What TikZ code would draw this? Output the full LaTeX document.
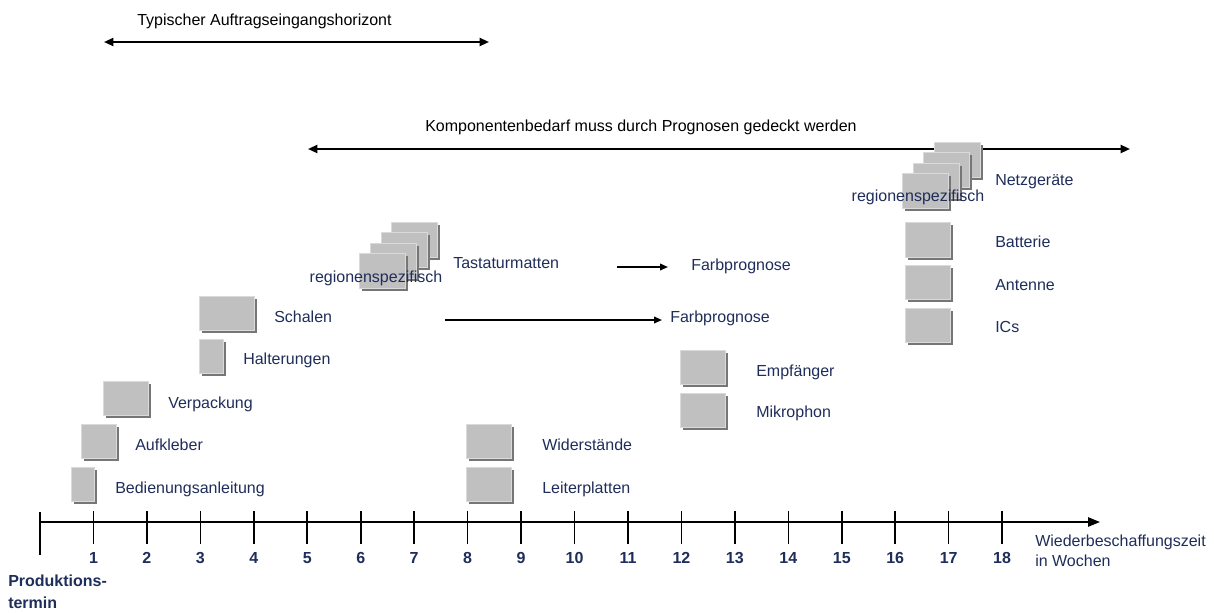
\documentclass[tikz,border=0pt]{standalone}
\usepackage{fontspec}
\setmainfont{Liberation Sans}
\usetikzlibrary{arrows.meta,shadows}
\definecolor{navy}{RGB}{31,45,90}
\definecolor{boxgray}{RGB}{192,192,192}
\definecolor{shadowgray}{RGB}{118,118,118}
\definecolor{edgegray}{RGB}{218,218,218}
\tikzset{
  lab/.style={text=navy, font=\fontsize{12}{14}\selectfont, anchor=base west, inner sep=0pt},
  toplab/.style={text=black, font=\fontsize{12}{14}\selectfont, anchor=base west, inner sep=0pt},
  numlab/.style={text=navy, font=\bfseries\fontsize{12}{14}\selectfont, anchor=base, inner sep=0pt},
  part/.style args={#1x#2}{rectangle, anchor=north west, fill=boxgray, draw=edgegray, line width=0.6pt,
    inner sep=0pt, outer sep=0pt, minimum width=#1*0.75pt, minimum height=#2*0.75pt,
    drop shadow={shadow xshift=2pt, shadow yshift=-2pt, fill=shadowgray, opacity=1}},
  dblarrow/.style={line width=1.5pt, {Triangle[length=7pt,width=6pt]}-{Triangle[length=7pt,width=6pt]}},
  onearrow/.style={line width=1.2pt, -{Triangle[length=6pt,width=5pt]}},
  axis/.style={line width=1.4pt, -{Triangle[length=9pt,width=7pt]}},
  tick/.style={line width=1.2pt},
}
\begin{document}
\begin{tikzpicture}[x=0.75pt,y=-0.75pt]
\useasboundingbox (0,0) rectangle (1214,612);

% horizons at the top
\node[toplab] (horA) at (137,25) {Typischer Auftragseingangshorizont};
\coordinate (hA1) at (104,42);
\coordinate (hA2) at (489,42);
\draw[dblarrow] (hA1) -- (hA2);

\node[toplab] (horB) at (425,131) {Komponentenbedarf muss durch Prognosen gedeckt werden};
\coordinate (hB1) at (308,149);
\coordinate (hB2) at (1130,149);
\draw[dblarrow] (hB1) -- (hB2);

% time axis
\coordinate (ax0) at (40,522);
\coordinate (axE) at (1100,522);
\draw[axis] (ax0) -- (axE);
\draw[tick] (40,512) -- (40,555);
\foreach \i in {1,...,18} {
  \pgfmathsetmacro{\xx}{40+53.45*\i}
  \draw[tick] (\xx,511) -- (\xx,544);
  \node[numlab] (n\i) at (\xx,563) {\i};
}
% two-line labels: the base anchor sits on the last line
\node[text=navy, font=\bfseries\fontsize{12}{16.5}\selectfont, anchor=base west, inner sep=0pt, align=left]
  (prod) at (8,608) {Produktions-\\termin};
\node[text=navy, font=\fontsize{12}{15}\selectfont, anchor=base west, inner sep=0pt, align=left]
  (wbz) at (1035,566) {Wiederbeschaffungszeit\\in Wochen};

% components, left group
\node[part=23x34] (bBed) at (71,467) {};
\node[lab] (tBed) at (115,493) {Bedienungsanleitung};
\node[part=35x34] (bAuf) at (81,424) {};
\node[lab] (tAuf) at (135,450) {Aufkleber};
\node[part=45x34] (bVer) at (103,381) {};
\node[lab] (tVer) at (168,408) {Verpackung};
\node[part=24x34] (bHal) at (199,339) {};
\node[lab] (tHal) at (243,364) {Halterungen};
\node[part=55x34] (bSch) at (199,296) {};
\node[lab] (tSch) at (274,322) {Schalen};

% keypad mats, region specific
\node[part=46x35] (bTa4) at (391,222) {};
\node[part=46x35] (bTa3) at (381,232) {};
\node[part=46x35] (bTa2) at (370,243) {};
\node[part=46x35] (bTa1) at (359,253) {};
\node[text=navy, font=\fontsize{12}{14}\selectfont, anchor=base, inner sep=0pt] (rTa) at (376,282) {regionenspezifisch};
\node[lab] (tTas) at (453,268) {Tastaturmatten};
\coordinate (fA1) at (617,267);
\coordinate (fA2) at (668,267);
\draw[onearrow] (fA1) -- (fA2);
\node[lab] (tFa1) at (691,270) {Farbprognose};
\coordinate (fB1) at (445,320);
\coordinate (fB2) at (662,320);
\draw[onearrow] (fB1) -- (fB2);
\node[lab] (tFa2) at (670,322) {Farbprognose};

% middle group
\node[part=45x34] (bWid) at (466,424) {};
\node[lab] (tWid) at (542,450) {Widerstände};
\node[part=45x34] (bLei) at (466,467) {};
\node[lab] (tLei) at (542,493) {Leiterplatten};
\node[part=45x34] (bEmp) at (680,350) {};
\node[lab] (tEmp) at (756,376) {Empfänger};
\node[part=45x34] (bMik) at (680,393) {};
\node[lab] (tMik) at (756,417) {Mikrophon};

% right group: power supplies, region specific
\node[part=46x35] (bNe4) at (934,142) {};
\node[part=46x35] (bNe3) at (923,152) {};
\node[part=46x35] (bNe2) at (913,163) {};
\node[part=46x35] (bNe1) at (902,173) {};
\node[text=navy, font=\fontsize{12}{14}\selectfont, anchor=base, inner sep=0pt] (rNe) at (918,201) {regionenspezifisch};
\node[lab] (tNet) at (995,185) {Netzgeräte};
\node[part=45x35] (bBat) at (905,222) {};
\node[lab] (tBat) at (995,247) {Batterie};
\node[part=45x34] (bAnt) at (905,265) {};
\node[lab] (tAnt) at (995,290) {Antenne};
\node[part=45x34] (bICs) at (905,308) {};
\node[lab] (tICs) at (995,332) {ICs};
\end{tikzpicture}
\end{document}
